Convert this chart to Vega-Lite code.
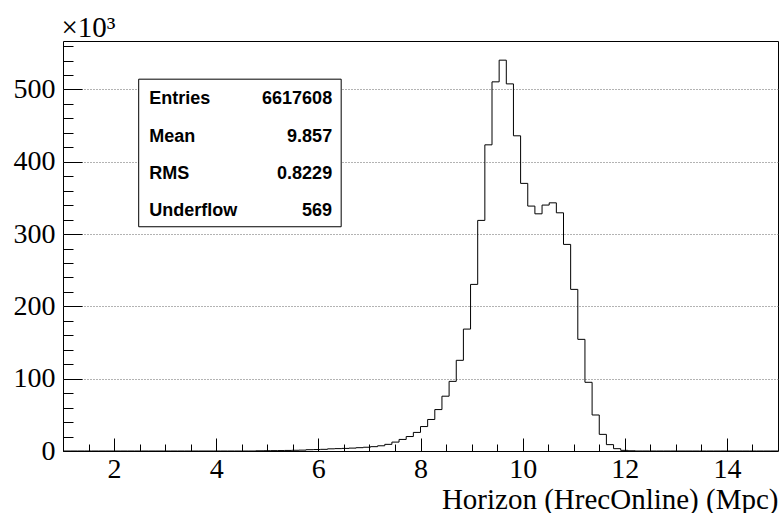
{
  "$schema": "https://vega.github.io/schema/vega-lite/v6.json",
  "width": 715,
  "height": 410,
  "autosize": {"type": "none"},
  "padding": {"left": 63, "top": 41, "right": 1, "bottom": 62},
  "background": "white",
  "config": {
    "view": {"stroke": "#000000", "strokeWidth": 1},
    "axis": {"domain": false, "labelColor": "#000000", "titleColor": "#000000", "tickColor": "#000000", "labelFont": "Liberation Serif", "titleFont": "Liberation Serif", "labelFontSize": 28, "titleFontSize": 28, "titleFontWeight": "normal", "tickWidth": 1}
  },
  "resolve": {"axis": {"x": "independent", "y": "independent"}},
  "datasets": {
    "hist": [
      {"edge": 1.00, "count": 0}, {"edge": 1.14, "count": 0}, {"edge": 1.28, "count": 0}, {"edge": 1.42, "count": 0}, {"edge": 1.56, "count": 0},
      {"edge": 1.70, "count": 0}, {"edge": 1.84, "count": 0}, {"edge": 1.98, "count": 0}, {"edge": 2.12, "count": 0}, {"edge": 2.26, "count": 0},
      {"edge": 2.40, "count": 0}, {"edge": 2.54, "count": 0}, {"edge": 2.68, "count": 0}, {"edge": 2.82, "count": 0}, {"edge": 2.96, "count": 0},
      {"edge": 3.10, "count": 0}, {"edge": 3.24, "count": 0}, {"edge": 3.38, "count": 0}, {"edge": 3.52, "count": 0}, {"edge": 3.66, "count": 0},
      {"edge": 3.80, "count": 0}, {"edge": 3.94, "count": 0}, {"edge": 4.08, "count": 0}, {"edge": 4.22, "count": 0}, {"edge": 4.36, "count": 0},
      {"edge": 4.50, "count": 0}, {"edge": 4.64, "count": 0}, {"edge": 4.78, "count": 0.3}, {"edge": 4.92, "count": 0.4}, {"edge": 5.06, "count": 0.5},
      {"edge": 5.20, "count": 0.6}, {"edge": 5.34, "count": 0.8}, {"edge": 5.48, "count": 1.0}, {"edge": 5.62, "count": 1.2}, {"edge": 5.76, "count": 1.8},
      {"edge": 5.90, "count": 2.0}, {"edge": 6.04, "count": 2.3}, {"edge": 6.18, "count": 3.0}, {"edge": 6.32, "count": 3.3}, {"edge": 6.46, "count": 3.6},
      {"edge": 6.60, "count": 4.0}, {"edge": 6.74, "count": 4.6}, {"edge": 6.88, "count": 5.2}, {"edge": 7.02, "count": 6.0}, {"edge": 7.16, "count": 7.2},
      {"edge": 7.30, "count": 9.2}, {"edge": 7.44, "count": 12.3}, {"edge": 7.58, "count": 16.0}, {"edge": 7.72, "count": 20.0}, {"edge": 7.86, "count": 25.7},
      {"edge": 8.00, "count": 33.8}, {"edge": 8.14, "count": 43.6}, {"edge": 8.28, "count": 57.3}, {"edge": 8.42, "count": 75.8}, {"edge": 8.56, "count": 96.3},
      {"edge": 8.70, "count": 125.4}, {"edge": 8.84, "count": 168.6}, {"edge": 8.98, "count": 230.4}, {"edge": 9.12, "count": 318.9}, {"edge": 9.26, "count": 423.4},
      {"edge": 9.40, "count": 510.5}, {"edge": 9.54, "count": 540.5}, {"edge": 9.68, "count": 507.7}, {"edge": 9.82, "count": 435.9}, {"edge": 9.96, "count": 370.1},
      {"edge": 10.10, "count": 338.7}, {"edge": 10.24, "count": 328.0}, {"edge": 10.38, "count": 340.1}, {"edge": 10.52, "count": 343.2}, {"edge": 10.66, "count": 329.4},
      {"edge": 10.80, "count": 285.7}, {"edge": 10.94, "count": 223.5}, {"edge": 11.08, "count": 154.4}, {"edge": 11.22, "count": 95.0}, {"edge": 11.36, "count": 49.8},
      {"edge": 11.50, "count": 23.0}, {"edge": 11.64, "count": 8.8}, {"edge": 11.78, "count": 3.2}, {"edge": 11.92, "count": 0.9}, {"edge": 12.06, "count": 0.3},
      {"edge": 12.20, "count": 0}, {"edge": 12.34, "count": 0}, {"edge": 12.48, "count": 0}, {"edge": 12.62, "count": 0}, {"edge": 12.76, "count": 0},
      {"edge": 12.90, "count": 0}, {"edge": 13.04, "count": 0}, {"edge": 13.18, "count": 0}, {"edge": 13.32, "count": 0}, {"edge": 13.46, "count": 0},
      {"edge": 13.60, "count": 0}, {"edge": 13.74, "count": 0}, {"edge": 13.88, "count": 0}, {"edge": 14.02, "count": 0}, {"edge": 14.16, "count": 0},
      {"edge": 14.30, "count": 0}, {"edge": 14.44, "count": 0}, {"edge": 14.58, "count": 0}, {"edge": 14.72, "count": 0}, {"edge": 14.86, "count": 0},
      {"edge": 15.00, "count": 0}
    ],
    "stats": [
      {"stat": "Entries", "value": "6617608"},
      {"stat": "Mean", "value": "9.857"},
      {"stat": "RMS", "value": "0.8229"},
      {"stat": "Underflow", "value": "569"}
    ]
  },
  "layer": [
    {
      "data": {"name": "hist"},
      "mark": {"type": "line", "interpolate": "step-after", "color": "#000000", "strokeWidth": 1},
      "encoding": {
        "x": {
          "field": "edge", "type": "quantitative",
          "scale": {"domain": [1, 15], "nice": false, "zero": false},
          "axis": {
            "orient": "bottom",
            "values": [1.5, 2, 2.5, 3, 3.5, 4, 4.5, 5, 5.5, 6, 6.5, 7, 7.5, 8, 8.5, 9, 9.5, 10, 10.5, 11, 11.5, 12, 12.5, 13, 13.5, 14, 14.5],
            "format": "~g",
            "labelExpr": "datum.value % 2 === 0 ? datum.label : ''",
            "tickSize": {"condition": {"test": "datum.value % 2 === 0", "value": -13}, "value": -7},
            "labelPadding": 17,
            "labelFlush": false,
            "labelOverlap": false,
            "grid": false,
            "title": "Horizon (HrecOnline) (Mpc)",
            "titleFontSize": 29,
            "titleAnchor": "end",
            "titleAlign": "right",
            "titleBaseline": "alphabetic",
            "titleX": 715,
            "titleY": 57
          }
        },
        "y": {
          "field": "count", "type": "quantitative",
          "scale": {"domain": [0, 567], "nice": false, "zero": true},
          "axis": {
            "orient": "left",
            "values": [0, 20, 40, 60, 80, 100, 120, 140, 160, 180, 200, 220, 240, 260, 280, 300, 320, 340, 360, 380, 400, 420, 440, 460, 480, 500, 520, 540, 560],
            "labelExpr": "datum.value % 100 === 0 ? datum.label : ''",
            "tickSize": {"condition": {"test": "datum.value % 100 === 0", "value": -19}, "value": -10},
            "labelPadding": 27,
            "labelFlush": false,
            "labelOverlap": false,
            "grid": true,
            "gridDash": [1, 2],
            "gridColor": "#666666",
            "gridWidth": 1,
            "gridOpacity": {"condition": {"test": "datum.value % 100 === 0 && datum.value > 0", "value": 1}, "value": 0},
            "title": "×10³",
            "titleFontSize": 29,
            "titleAngle": 0,
            "titleAlign": "left",
            "titleBaseline": "alphabetic",
            "titleX": -2,
            "titleY": -5
          }
        }
      }
    },
    {
      "data": {"values": [{}]},
      "mark": {"type": "rect", "fill": "#ffffff", "stroke": "#000000", "strokeWidth": 1},
      "encoding": {
        "x": {"datum": 2.482, "axis": null},
        "x2": {"datum": 6.447},
        "y": {"datum": 514.2, "axis": null},
        "y2": {"datum": 310.1}
      }
    },
    {
      "data": {"name": "stats"},
      "mark": {"type": "text", "align": "left", "baseline": "alphabetic", "font": "Liberation Sans", "fontWeight": "bold", "fontSize": 18, "color": "#000000"},
      "encoding": {
        "x": {"datum": 2.69, "axis": null},
        "y": {"datum": 479.3, "axis": null},
        "yOffset": {"field": "stat", "type": "nominal", "sort": ["Entries", "Mean", "RMS", "Underflow"], "scale": {"type": "point", "range": [0, 111.7], "padding": 0}},
        "text": {"field": "stat"}
      }
    },
    {
      "data": {"name": "stats"},
      "mark": {"type": "text", "align": "right", "baseline": "alphabetic", "font": "Liberation Sans", "fontWeight": "bold", "fontSize": 18, "color": "#000000"},
      "encoding": {
        "x": {"datum": 6.27, "axis": null},
        "y": {"datum": 479.3, "axis": null},
        "yOffset": {"field": "stat", "type": "nominal", "sort": ["Entries", "Mean", "RMS", "Underflow"], "scale": {"type": "point", "range": [0, 111.7], "padding": 0}},
        "text": {"field": "value"}
      }
    }
  ]
}
